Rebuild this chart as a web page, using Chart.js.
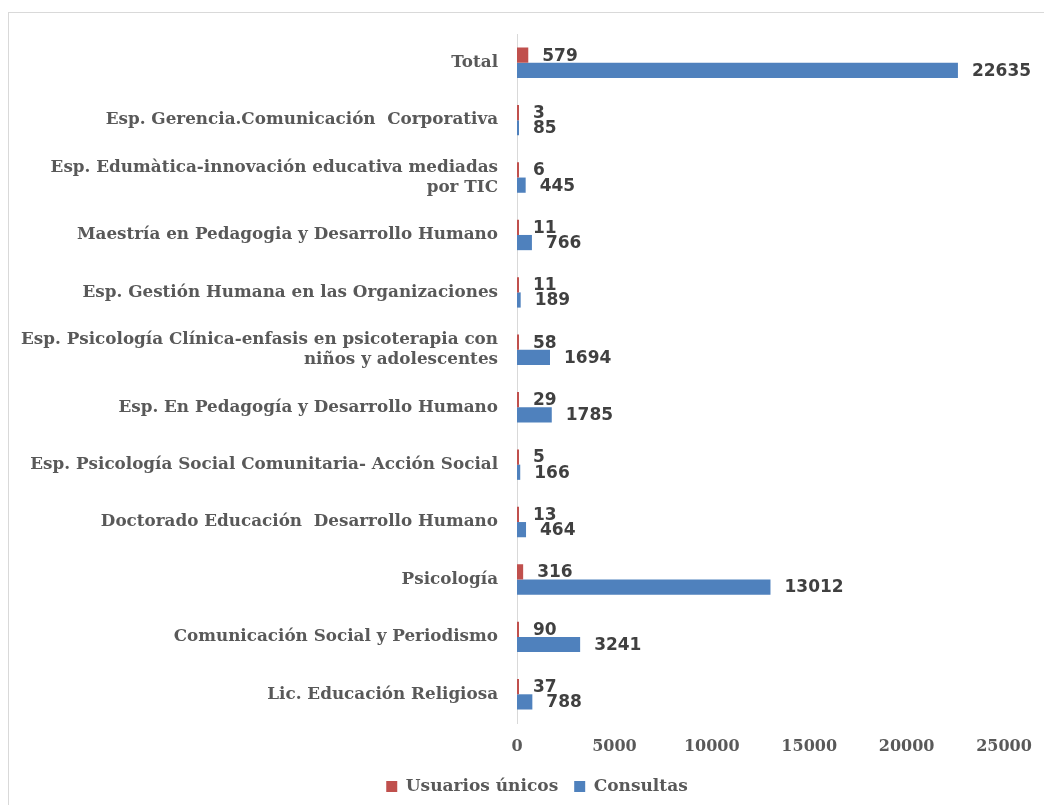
<!DOCTYPE html>
<html>
<head>
<meta charset="utf-8">
<script src="https://cdn.jsdelivr.net/npm/chart.js@4/dist/chart.umd.min.js"></script>
<style>
  html, body { margin: 0; padding: 0; background: #fff; }
  #wrap { position: relative; width: 1044px; height: 805px; overflow: hidden; }
  #frame { position: absolute; left: 8px; top: 12px; width: 1100px; height: 900px; border: 1px solid #d9d9d9; }
  canvas { position: absolute; left: 0; top: 0; }
</style>
</head>
<body>
<div id="wrap">
  <div id="frame"></div>
  <canvas id="usoChart" width="1044" height="805"></canvas>
</div>
<script>
const programas = [
  "Total",
  "Esp. Gerencia.Comunicación  Corporativa",
  ["Esp. Edumàtica-innovación educativa mediadas", "por TIC"],
  "Maestría en Pedagogia y Desarrollo Humano",
  "Esp. Gestión Humana en las Organizaciones",
  ["Esp. Psicología Clínica-enfasis en psicoterapia con", "niños y adolescentes"],
  "Esp. En Pedagogía y Desarrollo Humano",
  "Esp. Psicología Social Comunitaria- Acción Social",
  "Doctorado Educación  Desarrollo Humano",
  "Psicología",
  "Comunicación Social y Periodismo",
  "Lic. Educación Religiosa"
];
const usuariosUnicos = [579, 3, 6, 11, 11, 58, 29, 5, 13, 316, 90, 37];
const consultas = [22635, 85, 445, 766, 189, 1694, 1785, 166, 464, 13012, 3241, 788];
const xTicks = [0, 5000, 10000, 15000, 20000, 25000];

const serif = "'DejaVu Serif', serif";
const gray = "#595959";

// etiquetas de valor al final de cada barra
const valueLabels = {
  id: "valueLabels",
  afterDatasetsDraw(chart) {
    const ctx = chart.ctx;
    ctx.save();
    ctx.font = "bold 17px 'DejaVu Sans', sans-serif";
    ctx.fillStyle = "#404040";
    ctx.textAlign = "left";
    ctx.textBaseline = "middle";
    chart.data.datasets.forEach((ds, i) => {
      chart.getDatasetMeta(i).data.forEach((bar, j) => {
        ctx.fillText(String(ds.data[j]), bar.x + 14, bar.y + 1);
      });
    });
    ctx.restore();
  }
};

// la leyenda de Excel queda centrada un poco a la derecha
const legendShift = {
  id: "legendShift",
  afterLayout(chart) {
    if (chart.legend) {
      chart.legend.left += 35;
      chart.legend.right += 35;
    }
  }
};

new Chart(document.getElementById("usoChart"), {
  type: "bar",
  data: {
    labels: programas,
    datasets: [
      {
        label: "Usuarios únicos",
        data: usuariosUnicos,
        backgroundColor: "#C0504D",
        categoryPercentage: 0.53,
        barPercentage: 1.0,
        minBarLength: 2
      },
      {
        label: "Consultas",
        data: consultas,
        backgroundColor: "#4F81BD",
        categoryPercentage: 0.53,
        barPercentage: 1.0,
        minBarLength: 2
      }
    ]
  },
  options: {
    indexAxis: "y",
    responsive: false,
    animation: false,
    layout: { padding: { top: 34, right: 40, left: 0, bottom: 0 } },
    scales: {
      x: {
        min: 0,
        max: 25000,
        afterBuildTicks: (s) => { s.ticks = xTicks.map(v => ({ value: v })); },
        afterFit: (s) => { s.height = 39; },
        grid: { display: false },
        border: { display: false },
        ticks: {
          color: gray,
          padding: 6,
          callback: (v) => String(v),
          font: { family: serif, size: 16, weight: "bold" }
        }
      },
      y: {
        afterFit: (s) => { s.width = 517; },
        grid: { display: false, drawTicks: false },
        border: { display: true, color: "#d9d9d9", width: 1 },
        ticks: {
          color: gray,
          padding: 19,
          font: { family: serif, size: 16.8, weight: "bold", lineHeight: 1.2 }
        }
      }
    },
    plugins: {
      legend: {
        position: "bottom",
        labels: {
          boxWidth: 11,
          boxHeight: 11,
          padding: 16,
          color: gray,
          font: { family: serif, size: 17, weight: "bold" }
        }
      },
      tooltip: { enabled: false }
    }
  },
  plugins: [valueLabels, legendShift]
});
</script>
</body>
</html>
